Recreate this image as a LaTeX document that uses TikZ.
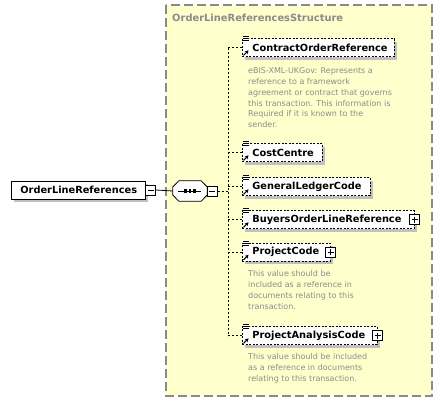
\documentclass[tikz,border=0pt]{standalone}
\usepackage{fontspec}
\setmainfont{DejaVu Sans}
\usetikzlibrary{shadows,arrows.meta,calc}
\definecolor{structfill}{HTML}{FFFFCC}
\definecolor{structline}{HTML}{8A8A8A}
\definecolor{notegray}{HTML}{8C8C8C}
\definecolor{shadowgray}{HTML}{C0C0C0}
\tikzset{
    namebox/.style={
        draw, fill=white, anchor=west, align=left, line width=0.8pt,
        minimum height=18pt, inner xsep=0pt, inner ysep=0pt,
        font=\bfseries\fontsize{9.8}{11}\selectfont,
        drop shadow={shadow xshift=3pt, shadow yshift=-3pt, fill=shadowgray, opacity=1}
    },
    elem/.style={namebox, dash pattern=on 2pt off 1.5pt},
    note/.style={
        anchor=north west, align=left, inner sep=0pt, text=notegray,
        font=\fontsize{8}{10.8}\selectfont
    },
    togglebox/.style={draw, fill=white, solid, line width=0.8pt, minimum size=10pt, inner sep=0pt},
    minusbox/.style={togglebox, path picture={
        \draw[line width=0.8pt] ([xshift=2pt]path picture bounding box.west) -- ([xshift=-2pt]path picture bounding box.east);}},
    plusbox/.style={togglebox, path picture={
        \draw[line width=0.8pt] ([xshift=2pt]path picture bounding box.west) -- ([xshift=-2pt]path picture bounding box.east);
        \draw[line width=0.8pt] ([yshift=-2pt]path picture bounding box.north) -- ([yshift=2pt]path picture bounding box.south);}},
    seqbox/.style={minimum width=34pt, minimum height=20pt, inner sep=0pt},
    conn/.style={dash pattern=on 2pt off 2pt, line width=0.8pt}
}

\begin{document}
\begin{tikzpicture}[x=1pt, y=-1pt]
\useasboundingbox (0,0) rectangle (443,402);

% the complex type area
\draw[structline, fill=structfill, line width=1.3pt, dash pattern=on 9pt off 4pt] (166,5) rectangle (432,396);
\node[anchor=west, inner sep=0pt, text=structline, font=\bfseries\fontsize{9.9}{11}\selectfont] (title) at (172,18) {OrderLineReferencesStructure};

% root element and sequence
\node[namebox, text width=134pt] (root) at (11,190) {\hspace*{9pt}OrderLineReferences};
\node[minusbox] (rootminus) at ([xshift=5pt]root.east) {};
\node[seqbox] (seq) at (190,191) {};
\def\octagon{($(seq.west)+(0,-4)$) -- ($(seq.north west)+(6,0)$) -- ($(seq.north east)+(-6,0)$) -- ($(seq.east)+(0,-4)$)
  -- ($(seq.east)+(0,4)$) -- ($(seq.south east)+(-6,0)$) -- ($(seq.south west)+(6,0)$) -- ($(seq.west)+(0,4)$) -- cycle}
\fill[shadowgray, shift={(3,3)}] \octagon;
\filldraw[fill=white, line width=0.8pt] \octagon;
\node[minusbox] (seqminus) at ([xshift=5pt]seq.east) {};
\draw[line width=0.8pt] (rootminus.east) -- (seq.west);
\draw[line width=0.9pt] ([xshift=5pt]seq.west) -- ([xshift=-6pt]seq.east);
\foreach \dx in {-4.5,0,4.5} {
  \fill ([xshift=\dx pt]seq.center) +(-1.1,-1.6) rectangle +(1.1,1.6);
}

% child elements
\node[elem, text width=152pt] (cor) at (242,47.5) {\hspace*{10pt}ContractOrderReference};
\node[elem, text width=80pt] (cc) at (242,152.5) {\hspace*{10pt}CostCentre};
\node[elem, text width=128pt] (glc) at (242,186.5) {\hspace*{10pt}GeneralLedgerCode};
\node[elem, text width=172pt] (bolr) at (242,219.5) {\hspace*{10pt}BuyersOrderLineReference};
\node[elem, text width=88pt] (pc) at (242,252) {\hspace*{10pt}ProjectCode};
\node[elem, text width=135pt] (pac) at (242,335.5) {\hspace*{10pt}ProjectAnalysisCode};

\node[plusbox] (bolrplus) at (bolr.east) {};
\node[plusbox] (pcplus) at (pc.east) {};
\node[plusbox] (pacplus) at (pac.east) {};

% element icons
\def\elemicon#1{
  \fill[white] ($(#1.north west)+(0.5,-2.5)$) rectangle +(6.5,6.5);
  \foreach \dy in {-1.5,0.5,2.5} {
    \draw[line width=0.7pt] ($(#1.north west)+(1,\dy)$) -- +(5.5,0);
  }
  \draw[line width=1.1pt, -{Stealth[length=3.5pt,width=4pt]}] ($(#1.south west)+(1.5,-1.5)$) -- +(5,-5);
}
\foreach \c in {cor,cc,glc,bolr,pc,pac} {
  \elemicon{\c}
}

% connectors
\coordinate (spine) at (228,0);
\draw[conn] (seqminus.east) -- (seqminus.east -| spine);
\draw[conn] (spine |- cor.west) -- (spine |- pac.west);
\foreach \c in {cor,cc,glc,bolr,pc,pac} {
  \draw[conn] (spine |- \c.west) -- (\c.west);
}

% annotations
\node[note] (cornote) at (248,67.5) {eBIS-XML-UKGov: Represents a\\reference to a framework\\agreement or contract that governs\\this transaction. This information is\\Required if it is known to the\\sender.};
\node[note] (pcnote) at (248,270.5) {This value should be\\included as a reference in\\documents relating to this\\transaction.};
\node[note] (pacnote) at (248,353.5) {This value should be included\\as a reference in documents\\relating to this transaction.};

\end{tikzpicture}
\end{document}
